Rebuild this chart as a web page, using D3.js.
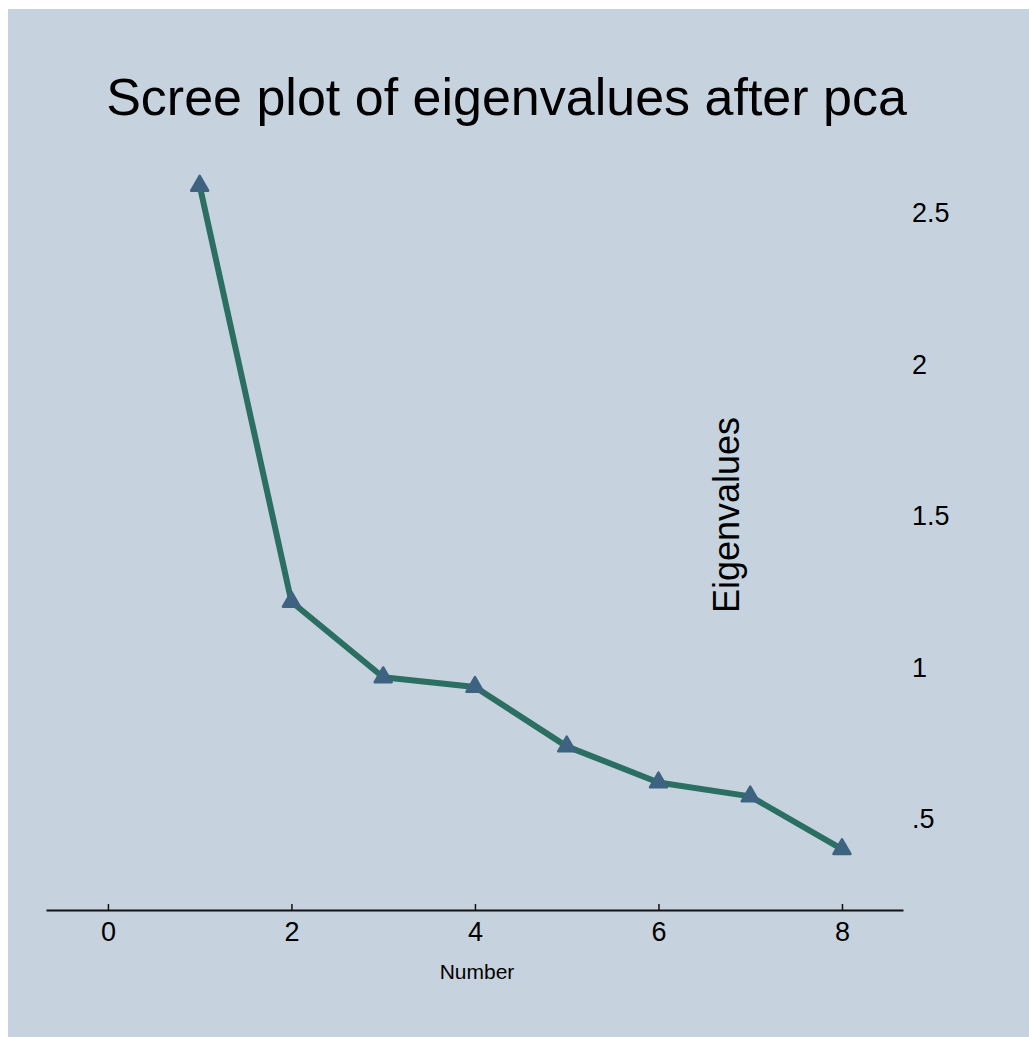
<!DOCTYPE html>
<html>
<head>
<meta charset="utf-8">
<script src="https://cdn.jsdelivr.net/npm/d3@7"></script>
<style>
	body { margin: 0; background: #ffffff; overflow: hidden; }
	svg { display: block; }
	text { font-family: "Liberation Sans", Arial, sans-serif; fill: #000; }
</style>
</head>
<body>
<div id="main"></div>
<script>
// eigenvalues
var components = [1, 2, 3, 4, 5, 6, 7, 8]
var eigenvalues = [2.59, 1.217, 0.968, 0.936, 0.740, 0.621, 0.575, 0.401]
var xTicks = [0, 2, 4, 6, 8]
var yTicks = [0.5, 1, 1.5, 2, 2.5]

var w = 1029,
	h = 1037

var svg = d3.select("#main")
	.append("svg")
	.attr("width", w)
	.attr("height", h)

// plot region background
svg.append("rect")
	.attr("x", 8)
	.attr("y", 9)
	.attr("width", w - 8)
	.attr("height", h - 9)
	.attr("fill", "#c6d3df")

var x = d3.scaleLinear()
	.domain([-0.675, 8.665])
	.range([46, 903])

var y = d3.scaleLinear()
	.domain([0.2, 2.5])
	.range([910, 213])

// x axis, ticks pointing up
var xAxis = d3.axisBottom(x)
	.tickValues(xTicks)
	.tickSize(-6)
	.tickSizeOuter(0)
	.tickPadding(12)

var gx = svg.append("g")
	.attr("transform", "translate(0," + y(0.2) + ")")
	.call(xAxis)
gx.select(".domain").attr("stroke", "#111").attr("stroke-width", 2)
gx.selectAll(".tick line").attr("stroke", "#111").attr("stroke-width", 1.5)
gx.selectAll(".tick text")
	.style("font-size", "27px")
	.style("font-family", "'Liberation Sans', Arial, sans-serif")
	.attr("fill", "#000")

// y labels on the right, no axis line
var yAxis = d3.axisRight(y)
	.tickValues(yTicks)
	.tickSize(0)
	.tickPadding(8)
	.tickFormat(function(d) { return String(d).replace(/^0\./, ".") })

var gy = svg.append("g")
	.attr("transform", "translate(904,0)")
	.call(yAxis)
gy.select(".domain").remove()
gy.selectAll(".tick text")
	.style("font-size", "27px")
	.style("font-family", "'Liberation Sans', Arial, sans-serif")
	.attr("fill", "#000")

// the scree line
var line = d3.line()
	.x(function(d, i) { return x(components[i]) })
	.y(function(d) { return y(d) })

svg.append("path")
	.datum(eigenvalues)
	.attr("d", line)
	.attr("fill", "none")
	.attr("stroke", "#2b6e62")
	.attr("stroke-width", 6)
	.attr("stroke-linejoin", "round")

// triangle markers
var tri = d3.symbol().type(d3.symbolTriangle).size(125)

svg.selectAll(".marker")
	.data(eigenvalues)
	.enter()
	.append("path")
	.attr("class", "marker")
	.attr("d", tri)
	.attr("transform", function(d, i) {
		return "translate(" + x(components[i]) + "," + y(d) + ")"
	})
	.attr("fill", "#3d6380")
	.attr("stroke", "#3d6380")
	.attr("stroke-width", 2.5)
	.attr("stroke-linejoin", "round")

// titles
svg.append("text")
	.attr("x", 506.5)
	.attr("y", 115)
	.attr("text-anchor", "middle")
	.style("font-size", "52px")
	.text("Scree plot of eigenvalues after pca")

svg.append("text")
	.attr("x", 477)
	.attr("y", 979)
	.attr("text-anchor", "middle")
	.style("font-size", "21px")
	.text("Number")

svg.append("text")
	.attr("transform", "translate(739,515) rotate(-90)")
	.attr("text-anchor", "middle")
	.style("font-size", "36px")
	.text("Eigenvalues")
</script>
</body>
</html>
